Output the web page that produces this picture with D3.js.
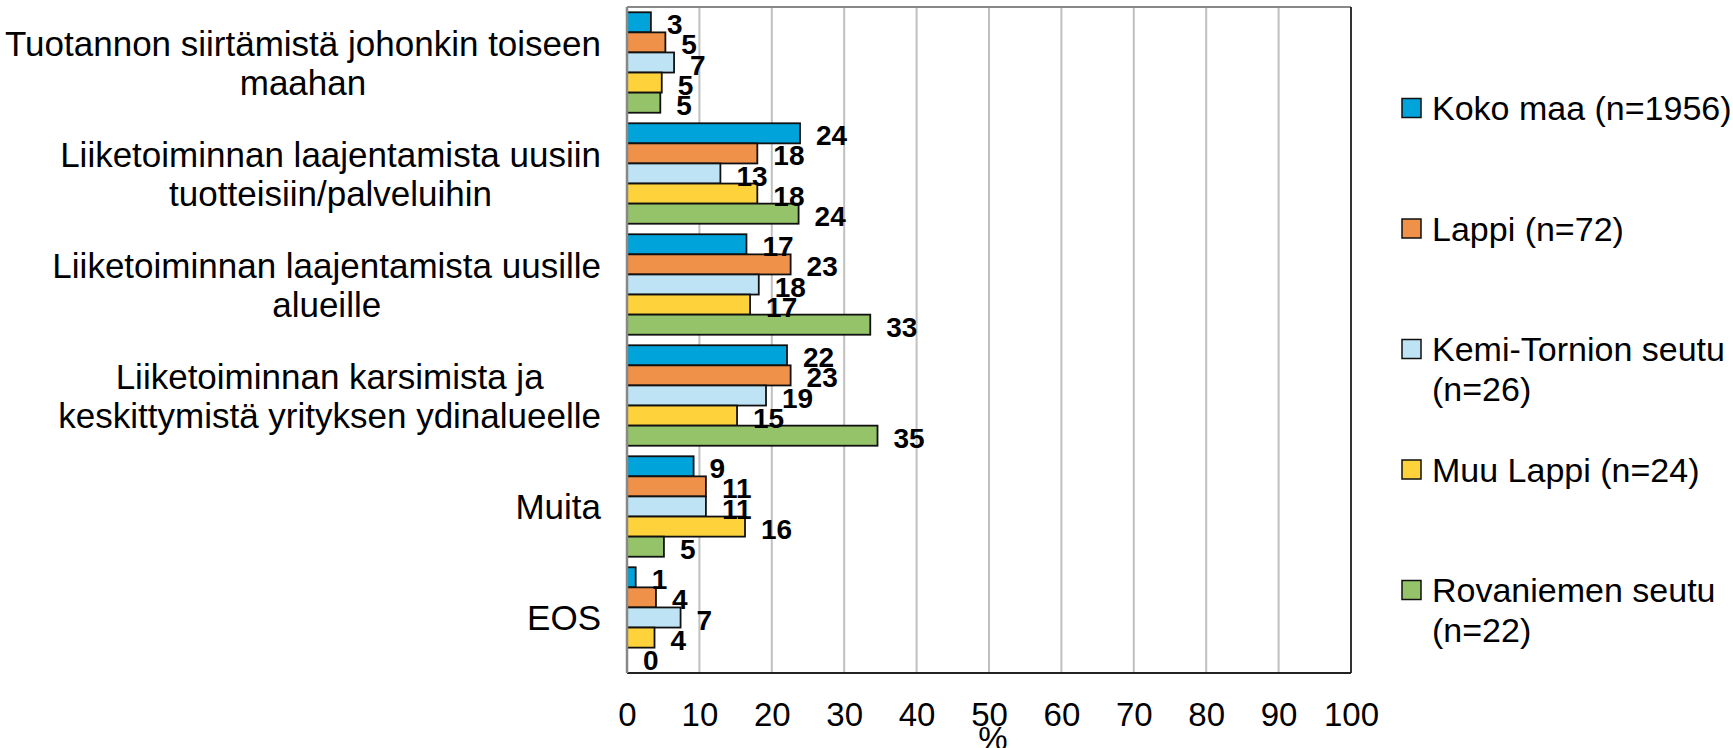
<!DOCTYPE html>
<html>
<head>
<meta charset="utf-8">
<script src="https://cdn.jsdelivr.net/npm/d3@7"></script>
<style>
	body { margin: 0; background: #fff; }
	text { font-family: "Liberation Sans", Arial, sans-serif; }
</style>
</head>
<body>
<div id="chart"></div>
<script>
// categories, each one split into its text lines
var categories = [
	["Tuotannon siirtämistä johonkin toiseen", "maahan"],
	["Liiketoiminnan laajentamista uusiin", "tuotteisiin/palveluihin"],
	["Liiketoiminnan laajentamista uusille", "alueille"],
	["Liiketoiminnan karsimista ja", "keskittymistä yrityksen ydinalueelle"],
	["Muita"],
	["EOS"]
]
var seriesNames = [
	["Koko maa (n=1956)"],
	["Lappi (n=72)"],
	["Kemi-Tornion seutu", "(n=26)"],
	["Muu Lappi (n=24)"],
	["Rovaniemen seutu", "(n=22)"]
]
var kokoMaa = [3.3, 23.9, 16.5, 22.1, 9.2, 1.2]
var lappi = [5.3, 18.0, 22.6, 22.6, 10.9, 4.0]
var kemiTornio = [6.5, 12.9, 18.2, 19.2, 10.9, 7.4]
var muuLappi = [4.8, 18.0, 17.0, 15.2, 16.3, 3.8]
var rovaniemi = [4.6, 23.7, 33.6, 34.6, 5.1, 0]
var labels = [
	[3, 24, 17, 22, 9, 1],
	[5, 18, 23, 23, 11, 4],
	[7, 13, 18, 19, 11, 7],
	[5, 18, 17, 15, 16, 4],
	[5, 24, 33, 35, 5, 0]
]
var xTicks = [0, 10, 20, 30, 40, 50, 60, 70, 80, 90, 100]
var colors = ["#00A3DA", "#F0914A", "#BEE3F5", "#FED23A", "#95C36A"]

var w = 1733, h = 748,
	margins = {left: 627, right: 1351, top: 7, bottom: 673}

var values = [kokoMaa, lappi, kemiTornio, muuLappi, rovaniemi]

var svg = d3.select("#chart").append("svg")
	.attr("width", w)
	.attr("height", h)

var x = d3.scaleLinear()
	.domain([0, 100])
	.range([margins.left, margins.right])

var y0 = d3.scaleBand()
	.domain(d3.range(categories.length))
	.range([margins.top, margins.bottom])
	.paddingInner(0.095)
	.paddingOuter(0.0475)

var y1 = d3.scaleBand()
	.domain(d3.range(seriesNames.length))
	.range([0, y0.bandwidth()])

// gridlines
svg.append("g")
	.selectAll("line")
	.data(xTicks.slice(1))
	.enter()
	.append("line")
	.attr("x1", d => x(d))
	.attr("x2", d => x(d))
	.attr("y1", margins.top)
	.attr("y2", margins.bottom)
	.attr("stroke", "#C0C0C0")
	.attr("stroke-width", 2)

// bars
var groups = svg.append("g")
	.selectAll("g")
	.data(categories)
	.enter()
	.append("g")
	.attr("transform", (d, i) => "translate(0," + y0(i) + ")")

groups.each(function(c, ci) {
	var g = d3.select(this)
	seriesNames.forEach((s, si) => {
		var v = values[si][ci]
		if (v > 0) {
			g.append("rect")
				.attr("x", x(0))
				.attr("y", y1(si))
				.attr("width", x(v) - x(0))
				.attr("height", y1.bandwidth())
				.attr("fill", colors[si])
				.attr("stroke", "#111")
				.attr("stroke-width", 1.8)
		}
	})
})

// plot border
svg.append("line")
	.attr("x1", margins.left).attr("x2", margins.right)
	.attr("y1", margins.top).attr("y2", margins.top)
	.attr("stroke", "#888").attr("stroke-width", 2)
svg.append("line")
	.attr("x1", margins.right).attr("x2", margins.right)
	.attr("y1", margins.top).attr("y2", margins.bottom)
	.attr("stroke", "#333").attr("stroke-width", 2)
svg.append("line")
	.attr("x1", margins.left).attr("x2", margins.right)
	.attr("y1", margins.bottom).attr("y2", margins.bottom)
	.attr("stroke", "#222").attr("stroke-width", 2)
svg.append("line")
	.attr("x1", margins.left).attr("x2", margins.left)
	.attr("y1", margins.top).attr("y2", margins.bottom)
	.attr("stroke", "#888").attr("stroke-width", 2.5)

// data labels
groups.each(function(c, ci) {
	var g = d3.select(this)
	seriesNames.forEach((s, si) => {
		g.append("text")
			.attr("x", x(values[si][ci]) + 16)
			.attr("y", y1(si) + y1.bandwidth() / 2 + 2)
			.attr("dy", "0.36em")
			.style("font-size", "28px")
			.style("font-weight", "bold")
			.attr("fill", "#000")
			.text(labels[si][ci])
	})
})

// x axis
var xAxis = d3.axisBottom(x)
	.tickValues(xTicks)
	.tickSize(0)
	.tickPadding(30)

var xg = svg.append("g")
	.attr("transform", "translate(0," + margins.bottom + ")")
	.call(xAxis)
xg.select(".domain").remove()
xg.selectAll("text")
	.style("font-size", "33px")
	.style("font-family", "'Liberation Sans', Arial, sans-serif")
	.attr("fill", "#000")

// axis title
svg.append("text")
	.attr("x", x(50) + 4)
	.attr("y", 750)
	.style("text-anchor", "middle")
	.style("font-size", "33px")
	.text("%")

// category labels: block right aligned, lines centered inside it
categories.forEach((lines, ci) => {
	var g = svg.append("g")
	var cy = y0(ci) + y0.bandwidth() / 2
	var texts = lines.map((l, li) => g.append("text")
		.attr("y", cy + (li - (lines.length - 1) / 2) * 39)
		.attr("dy", "0.36em")
		.style("font-size", "35px")
		.style("text-anchor", "middle")
		.text(l))
	var maxW = d3.max(texts, t => t.node().getComputedTextLength())
	texts.forEach(t => t.attr("x", 601 - maxW / 2))
})

// legend
var legend = svg.append("g")
seriesNames.forEach((lines, si) => {
	var cy = 108 + si * 120.5
	legend.append("rect")
		.attr("x", 1402)
		.attr("y", cy - 9.5)
		.attr("width", 19)
		.attr("height", 19)
		.attr("fill", colors[si])
		.attr("stroke", "#111")
		.attr("stroke-width", 1.5)
	lines.forEach((l, li) => {
		legend.append("text")
			.attr("x", 1432)
			.attr("y", cy + li * 40)
			.attr("dy", "0.36em")
			.style("font-size", "34px")
			.text(l)
	})
})
</script>
</body>
</html>
